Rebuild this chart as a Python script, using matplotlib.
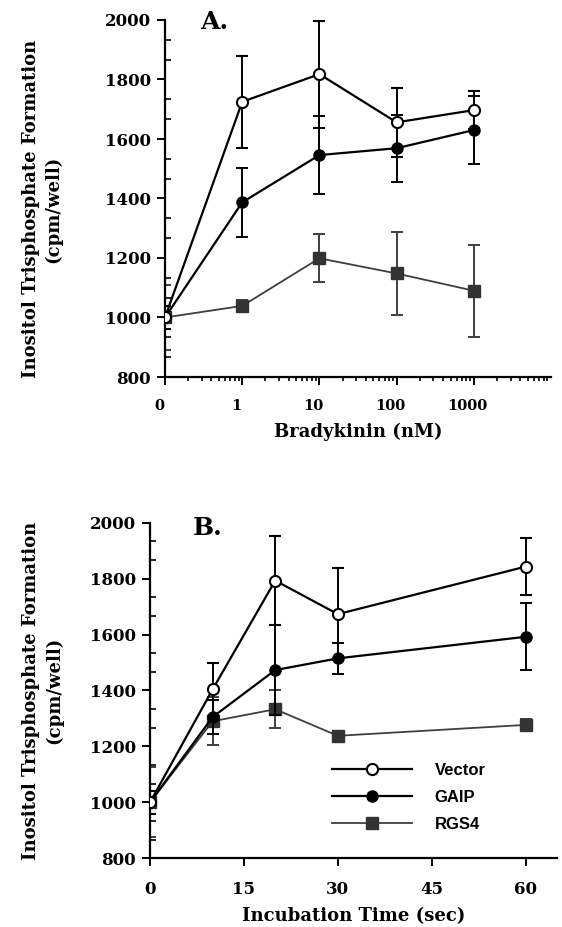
import numpy as np
import matplotlib
matplotlib.use('Agg')
import matplotlib.pyplot as plt
import matplotlib.transforms as mtransforms
from matplotlib.ticker import FixedLocator, LogLocator, NullFormatter, AutoMinorLocator

# Panel A: bradykinin dose response
dose = [0, 1, 10, 100, 1000]
dose_labels = ['0', '1', '10', '100', '1000']
vec_a = [1000, 1725, 1818, 1656, 1697]
vec_a_err = [40, 155, 180, 115, 65]
gaip_a = [1000, 1387, 1546, 1569, 1630]
gaip_a_err = [40, 115, 130, 113, 115]
rgs_a = [1000, 1039, 1199, 1148, 1090]
rgs_a_err = [110, 20, 80, 140, 155]

# Panel B: time course
time_s = [0, 10, 20, 30, 60]
vec_b = [1000, 1404, 1793, 1673, 1843]
vec_b_err = [40, 95, 160, 165, 102]
gaip_b = [1000, 1305, 1473, 1515, 1592]
gaip_b_err = [40, 60, 160, 55, 120]
rgs_b = [1000, 1290, 1333, 1238, 1277]
rgs_b_err = [125, 85, 68, 15, 20]

series_names = ['Vector', 'GAIP', 'RGS4']

serif = 'DejaVu Serif'
tick_fs = 12
label_fs = 13
ylab = 'Inositol Trisphosphate Formation\n(cpm/well)'

fig = plt.figure(figsize=(5.62, 9.27), dpi=100)
axA = fig.add_axes([165 / 562, 1 - 377 / 927, 386 / 562, 357 / 927])
axB = fig.add_axes([150 / 562, 1 - 858.3 / 927, 407 / 562, 335.6 / 927])


def draw_series(ax, x, vals, errs, style):
    ax.errorbar(x, vals, yerr=errs, capsize=4, capthick=1.4, elinewidth=1.4, **style)


styles = {
    'RGS4': dict(color='#3f3f3f', lw=1.3, marker='s', ms=8.5, mfc='#333333', mec='#333333', zorder=2),
    'GAIP': dict(color='black', lw=1.6, marker='o', ms=8, mfc='black', mec='black', zorder=3),
    'Vector': dict(color='black', lw=1.6, marker='o', ms=8, mfc='white', mec='black', mew=1.5, zorder=4),
}

# dose 0 is drawn one decade below 1 on the log axis
xA = [d if d > 0 else 0.1 for d in dose]
draw_series(axA, xA, rgs_a, rgs_a_err, styles['RGS4'])
draw_series(axA, xA, gaip_a, gaip_a_err, styles['GAIP'])
draw_series(axA, xA, vec_a, vec_a_err, styles['Vector'])

draw_series(axB, time_s, rgs_b, rgs_b_err, styles['RGS4'])
draw_series(axB, time_s, gaip_b, gaip_b_err, styles['GAIP'])
draw_series(axB, time_s, vec_b, vec_b_err, styles['Vector'])

for ax in (axA, axB):
    ax.spines['top'].set_visible(False)
    ax.spines['right'].set_visible(False)
    ax.spines['left'].set_linewidth(1.6)
    ax.spines['bottom'].set_linewidth(1.6)
    ax.set_ylim(800, 2000)
    ax.set_yticks([800, 1000, 1200, 1400, 1600, 1800, 2000])
    ax.yaxis.set_minor_locator(AutoMinorLocator(3))
    ax.tick_params(axis='both', which='major', direction='out', length=6, width=1.4,
                   labelsize=tick_fs)
    ax.tick_params(axis='y', which='major', pad=4)
    ax.tick_params(axis='x', which='major', pad=10)
    ax.tick_params(axis='y', which='minor', direction='in', length=4, width=1.2)
    ax.tick_params(axis='x', which='minor', direction='out', length=3, width=1.2)
    for lbl in ax.get_xticklabels() + ax.get_yticklabels():
        lbl.set_fontfamily(serif)
        lbl.set_fontweight('bold')
    ax.set_ylabel(ylab, fontsize=label_fs, fontweight='bold', family=serif,
                  linespacing=1.3)

axA.yaxis.set_label_coords(-0.265, 0.47)
axB.yaxis.set_label_coords(-0.214, 0.5)

axA.set_xscale('log')
axA.set_xlim(0.1, 10000)
axA.xaxis.set_major_locator(FixedLocator(xA))
axA.set_xticklabels(dose_labels, fontfamily=serif, fontweight='bold', fontsize=10.5)
axA.xaxis.set_minor_locator(LogLocator(base=10, subs=np.arange(2, 10)))
axA.xaxis.set_minor_formatter(NullFormatter())
shift = mtransforms.ScaledTranslation(-6 / 100, 0, fig.dpi_scale_trans)
for lbl in axA.get_xticklabels():
    lbl.set_transform(lbl.get_transform() + shift)
axA.set_xlabel('Bradykinin (nM)', fontsize=label_fs, fontweight='bold', family=serif, labelpad=7)
axA.text(0.09, 0.995, 'A.', transform=axA.transAxes, fontsize=18, fontweight='bold',
         family=serif, va='center')

axB.set_xlim(0, 65)
axB.set_xticks([0, 15, 30, 45, 60])
axB.set_xticklabels(['0', '15', '30', '45', '60'], fontfamily=serif, fontweight='bold',
                    fontsize=tick_fs)
axB.set_xlabel('Incubation Time (sec)', fontsize=label_fs, fontweight='bold', family=serif,
               labelpad=7)
axB.text(0.105, 0.985, 'B.', transform=axB.transAxes, fontsize=18, fontweight='bold',
         family=serif, va='center')

# legend built from the same styles
handles = [plt.Line2D([], [], **{k: v for k, v in styles[n].items() if k != 'zorder'})
           for n in series_names]
axB.legend(handles, series_names, loc='upper left', bbox_to_anchor=(0.446, 0.285),
           frameon=False, borderpad=0, borderaxespad=0, handlelength=4.8,
           handletextpad=1.4, labelspacing=0.72,
           prop={'family': 'Liberation Sans', 'weight': 'bold', 'size': 12})

fig.savefig('out.png', dpi=100)
